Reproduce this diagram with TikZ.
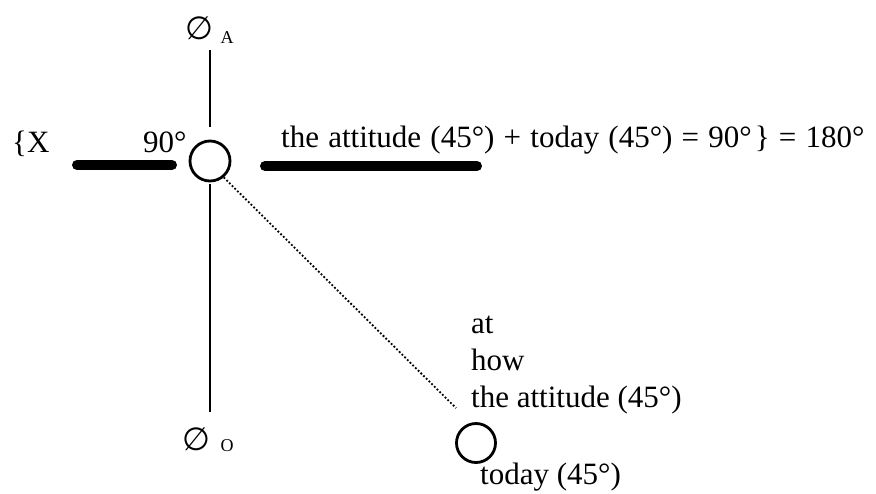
\documentclass[tikz,border=0pt]{standalone}
\usepackage{fontspec}
\setmainfont{Liberation Serif}
\newfontfamily\symfont{DejaVu Sans}
\begin{document}
\begin{tikzpicture}[x=1pt,y=-1pt,
  lbl/.style={inner sep=0pt, anchor=base west, font=\fontsize{31}{36}\selectfont},
  sub/.style={inner sep=0pt, font=\fontsize{18}{20}\selectfont},
  emptyset/.style={inner sep=0pt, font=\symfont\fontsize{32}{34}\selectfont},
  thin line/.style={line width=2.6pt},
  thick bar/.style={line width=10pt, line cap=round},
  ring/.style={circle, draw, line width=2.8pt, inner sep=0pt}]
\useasboundingbox (0,0) rectangle (876,493);
% main circle
\node[ring, minimum size=40pt] (c) at (210,161) {};
% vertical lines
\coordinate (vt1) at (210,50);
\coordinate (vt2) at (210,127);
\coordinate (vb1) at (210,184);
\coordinate (vb2) at (210,412);
\draw[thin line] (vt1) -- (vt2);
\draw[thin line] (vb1) -- (vb2);
% top label
\node[emptyset] (ea) at (199,28) {∅};
\node[sub] (sa) at (227,38) {A};
% bottom label
\node[emptyset] (eo) at (196,439) {∅};
\node[sub] (so) at (227,446) {O};
% thick bars
\coordinate (l1) at (77,165);
\coordinate (l2) at (172,165);
\coordinate (r1) at (265,166);
\coordinate (r2) at (477,166);
\draw[thick bar] (l1) -- (l2);
\draw[thick bar] (r1) -- (r2);
% left texts
\node[lbl] (x) at (12,152) {\{X};
\node[lbl] (n90) at (143,152) {90°};
% top equation
\node[lbl] (t1) at (281,147) {\spaceskip=9.2pt the attitude (45°) + today (45°) = 90°\kern3pt\} = 180°};
% small circle
\node[ring, minimum size=39pt] (s) at (476,443) {};
\coordinate (de) at (456,408);
\draw[line width=1.8pt, dotted] (c.-50) -- (de);
% right texts
\node[lbl] (at) at (471,333) {at};
\node[lbl] (how) at (471,370) {how};
\node[lbl] (att) at (471,407) {the attitude (45°)};
\node[lbl] (td) at (480,484) {today (45°)};
\end{tikzpicture}
\end{document}
